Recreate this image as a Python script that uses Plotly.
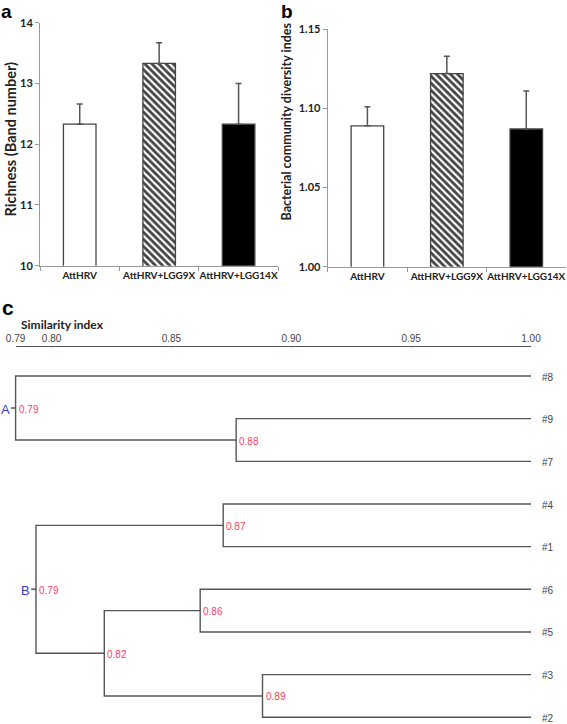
import plotly.graph_objects as go

W, H = 567, 724

# ---------------- data ----------------
groups = ["AttHRV", "AttHRV+LGG9X", "AttHRV+LGG14X"]
richness = [12.33, 13.33, 12.33]
richness_err = [0.33, 0.34, 0.67]
diversity = [1.089, 1.122, 1.087]
diversity_err = [0.012, 0.011, 0.024]

leaves = ["#8", "#9", "#7", "#4", "#1", "#6", "#5", "#3", "#2"]
# merges: (node id, left child, right child, similarity, label)
merges = [
    ("n97", "#9", "#7", 0.877, "0.88"),
    ("A", "#8", "n97", 0.785, "0.79"),
    ("n41", "#4", "#1", 0.8716, "0.87"),
    ("n65", "#6", "#5", 0.862, "0.86"),
    ("n32", "#3", "#2", 0.888, "0.89"),
    ("n82", "n65", "n32", 0.822, "0.82"),
    ("B", "n41", "n82", 0.7935, "0.79"),
]
clusters = ["A", "B"]
sim_ticks = [0.785, 0.80, 0.85, 0.90, 0.95, 1.00]
sim_ticktext = ["0.79", "0.80", "0.85", "0.90", "0.95", "1.00"]
sim_min, sim_max = 0.785, 1.00
stub = 0.002

# ---------------- helpers ----------------
def px(x):
    return x / W

def py(y):
    return 1 - y / H

BOLD = "Lato"
AX = "#999999"
LINE = "#555555"

fig = go.Figure()

# ---------------- bars ----------------
bar_common = dict(
    width=0.41,
    marker_line=dict(color="#444444", width=1.3),
    marker_pattern=dict(shape=["", "\\", ""], fgcolor="black", bgcolor="white",
                        size=5, solidity=0.55, fgopacity=1),
    showlegend=False,
    hoverinfo="skip",
)
fig.add_trace(go.Bar(
    x=groups, y=richness, xaxis="x", yaxis="y",
    marker_color=["white", "white", "black"],
    error_y=dict(type="data", array=richness_err, arrayminus=[0, 0, 0], symmetric=False,
                 color="#555555", thickness=1.5, width=3),
    **bar_common,
))
fig.add_trace(go.Bar(
    x=groups, y=diversity, xaxis="x2", yaxis="y2",
    marker_color=["white", "white", "black"],
    error_y=dict(type="data", array=diversity_err, arrayminus=[0, 0, 0], symmetric=False,
                 color="#555555", thickness=1.5, width=3),
    **bar_common,
))

# ---------------- dendrogram (drawn on x4, a slightly wider twin of the visible x3 scale) ----
ypos = {name: -i for i, name in enumerate(leaves)}
xpos = {name: sim_max for name in leaves}
node_labels = []
for nid, l, r, s, lab in merges:
    yl, yr = ypos[l], ypos[r]
    xs = [xpos[l], s, s, xpos[r]]
    ys = [yl, yl, yr, yr]
    fig.add_trace(go.Scatter(x=xs, y=ys, mode="lines", xaxis="x4", yaxis="y3",
                             line=dict(color=LINE, width=1.4), showlegend=False, hoverinfo="skip"))
    ypos[nid] = (yl + yr) / 2
    xpos[nid] = s
    node_labels.append((s, ypos[nid], lab))

# cluster stubs and labels
for c in clusters:
    fig.add_trace(go.Scatter(x=[xpos[c] - stub, xpos[c]], y=[ypos[c], ypos[c]], mode="lines",
                             xaxis="x4", yaxis="y3", line=dict(color=LINE, width=1.4),
                             showlegend=False, hoverinfo="skip"))
    fig.add_annotation(x=xpos[c] - stub, y=ypos[c], xref="x4", yref="y3", text=c,
                       showarrow=False, xanchor="right", yanchor="middle", xshift=1, yshift=-1,
                       font=dict(family="Liberation Sans", size=13, color="#3a3ad0"))

for s, yv, lab in node_labels:
    fig.add_annotation(x=s, y=yv, xref="x4", yref="y3", text=lab, showarrow=False,
                       xanchor="left", yanchor="middle", xshift=1, yshift=-1,
                       font=dict(family="Liberation Sans", size=10, color="#ff4060"))

for name in leaves:
    fig.add_annotation(x=sim_max, y=ypos[name], xref="x4", yref="y3", text=name, showarrow=False,
                       xanchor="left", yanchor="middle", xshift=9, yshift=-1,
                       font=dict(family="Liberation Sans", size=10, color="#444444"))

# invisible anchor trace so the visible similarity axis (x3) is drawn
fig.add_trace(go.Scatter(x=sim_ticks, y=[ypos[leaves[0]]] * len(sim_ticks), xaxis="x3", yaxis="y3",
                         mode="markers", marker=dict(opacity=0), showlegend=False, hoverinfo="skip"))

# ---------------- layout ----------------
tickfont_bold = dict(family=BOLD, size=11, color="#222222", weight="bold")
cat_font = dict(family=BOLD, size=10, color="#222222", weight="bold")
x3_left, x3_right = 15.6, 531.0
pix_per_unit = (x3_right - x3_left) / (sim_max - sim_min)
x4_left = x3_left - stub * pix_per_unit

fig.update_layout(
    width=W, height=H, margin=dict(l=0, r=0, t=0, b=0, autoexpand=False),
    paper_bgcolor="white", plot_bgcolor="white",
    xaxis=dict(domain=[px(40), px(278.3)], range=[-0.5, 2.5], showline=True, linecolor=AX,
               ticks="outside", tickson="boundaries", ticklen=4, tickcolor=AX, tickangle=0,
               tickfont=cat_font, showgrid=False, automargin=False),
    yaxis=dict(domain=[py(265.7), py(22.7)], range=[10, 14], dtick=1, showline=True, linecolor=AX,
               ticks="outside", ticklen=4, tickcolor=AX, tickfont=tickfont_bold,
               showgrid=False, zeroline=False, automargin=False),
    xaxis2=dict(domain=[px(327.7), px(566)], range=[-0.5, 2.5], showline=True, linecolor=AX,
                ticks="outside", tickson="boundaries", ticklen=4, tickcolor=AX, tickangle=0,
                tickfont=cat_font, showgrid=False, anchor="y2", automargin=False),
    yaxis2=dict(domain=[py(266.7), py(29.3)], range=[1.0, 1.15], dtick=0.05, tickformat=".2f",
                showline=True, linecolor=AX, ticks="outside", ticklen=4, tickcolor=AX,
                tickfont=tickfont_bold, showgrid=False, zeroline=False, anchor="x2",
                automargin=False),
    xaxis3=dict(domain=[px(x3_left), px(x3_right)], range=[sim_min, sim_max], side="top",
                anchor="y3", tickvals=sim_ticks, ticktext=sim_ticktext, showline=True,
                linecolor="#555555", linewidth=1, ticks="inside", ticklen=3, tickcolor="#555555",
                tickangle=0, tickfont=dict(family="Liberation Sans", size=10, color="#444444"),
                showgrid=False, zeroline=False, automargin=False),
    xaxis4=dict(domain=[px(x4_left), px(x3_right)], range=[sim_min - stub, sim_max], anchor="y3",
                visible=False, automargin=False),
    yaxis3=dict(domain=[0, py(347.3)], range=[-8.157, 0.673], visible=False, anchor="x3",
                automargin=False),
)

# panel letters and titles
for letter, x, y in [("a", 0, 0), ("b", 280, 0)]:
    fig.add_annotation(x=px(x), y=py(y), xref="paper", yref="paper", text=letter, showarrow=False,
                       xanchor="left", yanchor="top", borderpad=0,
                       font=dict(family="Liberation Sans", size=19, color="black", weight="bold"))
fig.add_annotation(x=px(0), y=py(307), xref="paper", yref="paper", text="c", showarrow=False,
                   xanchor="left", yanchor="middle",
                   font=dict(family="Liberation Sans", size=21, color="black", weight="bold"))

fig.add_annotation(x=px(9.5), y=py(139), xref="paper", yref="paper", text="Richness (Band number)",
                   textangle=-90, showarrow=False, xanchor="center", yanchor="middle",
                   font=dict(family=BOLD, size=14.5, color="#222222", weight="bold"))
fig.add_annotation(x=px(286.5), y=py(122), xref="paper", yref="paper",
                   text="Bacterial community diversity indes", textangle=-90, showarrow=False,
                   xanchor="center", yanchor="middle",
                   font=dict(family=BOLD, size=12.5, color="#222222", weight="bold"))
fig.add_annotation(x=px(19), y=py(324), xref="paper", yref="paper", text="Similarity index",
                   showarrow=False, xanchor="left", yanchor="middle",
                   font=dict(family=BOLD, size=12, color="#222222", weight="bold"))

# the page body has a default 8px margin; remove it so the figure fills the window exactly
fig.write_html("out.html", config={"displayModeBar": False},
               post_script="document.body.style.margin='0';document.body.style.overflow='hidden';")
